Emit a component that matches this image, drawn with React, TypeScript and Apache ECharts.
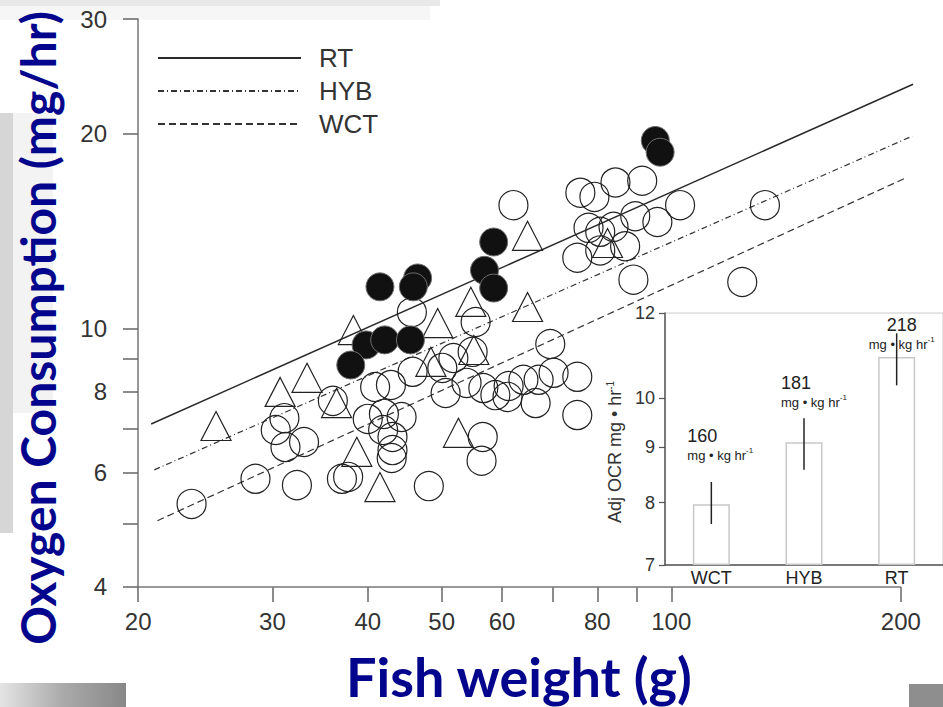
import React, { useEffect, useRef } from "react";
import * as echarts from "echarts";

// Main chart axes
const xTickValues = [20, 30, 40, 50, 60, 70, 80, 90, 100, 200];
const xLabelValues = [20, 30, 40, 50, 60, 80, 100, 200];
const yTickValues = [4, 5, 6, 7, 8, 9, 10, 20, 30];
const yLabelValues = [4, 6, 8, 10, 20, 30];

// Scatter data: [fish weight g, oxygen consumption mg/hr]
const rtFish = [
  [95.3, 19.5], [96.7, 18.7], [58.5, 13.6], [56.9, 12.3], [58.5, 11.55],
  [46.5, 11.97], [45.9, 11.6], [41.5, 11.6], [39.8, 9.44], [42.1, 9.61],
  [45.5, 9.61], [38.0, 8.79],
];
const hybFish = [
  [25.3, 7.08], [30.7, 7.99], [33.3, 8.4], [38.3, 9.95], [36.4, 7.68],
  [38.7, 6.46], [41.5, 5.7], [49.4, 10.2], [48.4, 8.89], [54.6, 11.0],
  [55.1, 9.27], [52.6, 6.91], [64.8, 13.9], [64.8, 10.8], [82.5, 13.55],
];
const wctFish = [
  [23.5, 5.37], [28.5, 5.87], [32.3, 5.74], [31.1, 7.28], [30.3, 6.98],
  [31.2, 6.57], [33.0, 6.69], [36.0, 7.74], [37.0, 5.87], [37.7, 5.91],
  [40.9, 8.13], [42.9, 8.19], [45.8, 8.58], [40.0, 7.26], [42.0, 7.39],
  [44.3, 7.31], [41.9, 6.98], [43.1, 6.81], [43.1, 6.5], [43.0, 6.32],
  [48.1, 5.72], [45.7, 10.6], [50.1, 8.7], [51.8, 9.01], [54.9, 9.21],
  [50.6, 7.96], [53.9, 8.25], [56.7, 8.1], [58.8, 7.9], [61.2, 8.16],
  [61.0, 7.85], [64.0, 8.34], [67.0, 8.34], [70.1, 8.55], [75.3, 8.43],
  [66.4, 7.68], [75.3, 7.36], [69.4, 9.47], [56.6, 6.81], [56.4, 6.26],
  [55.4, 10.24], [62.1, 15.5], [76.0, 16.2], [79.3, 15.96], [84.5, 16.8],
  [91.6, 16.9], [77.9, 14.3], [80.7, 14.1], [84.0, 14.35], [89.7, 14.9],
  [95.9, 14.6], [102.7, 15.5], [75.3, 12.86], [80.7, 13.2], [87.0, 13.4],
  [89.2, 11.9], [132.7, 15.5], [123.9, 11.8],
];

// Regression lines (end points)
const rtLine = [[20.8, 7.13], [207.5, 23.8]];
const hybLine = [[21.0, 6.06], [207, 19.8]];
const wctLine = [[21.2, 5.06], [203.6, 17.1]];
const xAxisSpan = [[20, 4], [200, 4]];

// Inset bar chart
const strains = ["WCT", "HYB", "RT"];
const adjOcr = [7.97, 9.1, 10.92];
const adjOcrLow = [7.64, 8.58, 10.28];
const adjOcrHigh = [8.36, 9.58, 11.49];
const adjRates = [160, 181, 218];
const insetTicks = [7, 8, 9, 10, 12];

const TICK_FONT = "'Liberation Sans', Arial, sans-serif";
const TITLE_FONT = "Lato, 'Open Sans', sans-serif";
const NAVY = "#03058c";
const CLEAR = "rgba(0,0,0,0)";

const labelLayouts = [
  { align: "left", offset: [-24, -40] },
  { align: "left", offset: [-23, -31] },
  { align: "center", offset: [5, -4] },
];

function buildOption() {
  return {
    animation: false,
    backgroundColor: "#ffffff",
    legend: {
      data: ["RT", "HYB", "WCT"],
      orient: "vertical",
      left: 152,
      top: 40,
      itemWidth: 143,
      itemHeight: 24,
      itemGap: 7,
      selectedMode: false,
      itemStyle: { color: CLEAR, borderColor: CLEAR, borderWidth: 0 },
      textStyle: {
        fontSize: 26, lineHeight: 22, color: "#333", fontFamily: TICK_FONT,
        padding: [2, 0, 0, 13],
      },
    },
    grid: [
      { left: 138, top: 19, width: 779, height: 568 },
      {
        left: 665, top: 313, width: 281, height: 252, show: true,
        backgroundColor: "#ffffff", borderColor: "#cccccc", borderWidth: 1, z: 10,
      },
    ],
    xAxis: [
      {
        type: "log", logBase: 10, gridIndex: 0, min: 19.99, max: 210,
        axisLine: { show: false },
        axisTick: { show: true, customValues: xTickValues, length: 15, lineStyle: { color: "#666", width: 1.5 } },
        axisLabel: { customValues: xLabelValues, fontSize: 24, color: "#333", fontFamily: TICK_FONT, margin: 22 },
        splitLine: { show: false },
        minorTick: { show: false },
      },
      {
        type: "category", gridIndex: 1, data: strains, z: 11,
        axisLine: { show: true, onZero: false, lineStyle: { color: "#555", width: 1.5 } },
        axisTick: { show: false },
        axisLabel: { fontSize: 18, color: "#222", fontFamily: TICK_FONT, margin: 4 },
        splitLine: { show: false },
      },
    ],
    yAxis: [
      {
        type: "log", logBase: 10, gridIndex: 0, min: 3.999, max: 30.001,
        axisLine: { show: true, lineStyle: { color: "#777", width: 1.5 } },
        axisTick: { show: true, customValues: yTickValues, length: 15, lineStyle: { color: "#666", width: 1.5 } },
        axisLabel: { customValues: yLabelValues, fontSize: 24, color: "#333", fontFamily: TICK_FONT, margin: 31 },
        splitLine: { show: false },
      },
      {
        type: "log", logBase: 10, gridIndex: 1, min: 6.999, max: 12.001, z: 11,
        startValue: 7,
        axisLine: { show: true, lineStyle: { color: "#555", width: 1.5 } },
        axisTick: { show: true, customValues: insetTicks, length: 6, lineStyle: { color: "#555", width: 1.2 } },
        axisLabel: { customValues: insetTicks, fontSize: 18, color: "#333", fontFamily: TICK_FONT, margin: 10 },
        splitLine: { show: false },
      },
    ],
    series: [
      {
        name: "xAxisLine", type: "line", xAxisIndex: 0, yAxisIndex: 0, data: xAxisSpan,
        symbol: "none", clip: false, silent: true, z: 2,
        lineStyle: { color: "#777", width: 1.5 },
      },
      {
        name: "RT", type: "line", xAxisIndex: 0, yAxisIndex: 0, data: rtLine, symbol: "none", z: 3,
        itemStyle: { color: "#2a2a2a" },
        lineStyle: { color: "#2a2a2a", width: 1.5, type: "solid" },
      },
      {
        name: "HYB", type: "line", xAxisIndex: 0, yAxisIndex: 0, data: hybLine, symbol: "none", z: 3,
        itemStyle: { color: "#333" },
        lineStyle: { color: "#333", width: 1.2, type: [6, 3, 1, 3] },
      },
      {
        name: "WCT", type: "line", xAxisIndex: 0, yAxisIndex: 0, data: wctLine, symbol: "none", z: 3,
        itemStyle: { color: "#333" },
        lineStyle: { color: "#333", width: 1.2, type: [7, 4] },
      },
      {
        name: "WCT fish", type: "scatter", xAxisIndex: 0, yAxisIndex: 0, data: wctFish,
        symbol: "circle", symbolSize: 29, z: 4,
        itemStyle: { color: CLEAR, borderColor: "#222", borderWidth: 1.2, opacity: 1 },
      },
      {
        name: "HYB fish", type: "scatter", xAxisIndex: 0, yAxisIndex: 0, data: hybFish,
        symbol: "triangle", symbolSize: [30, 29], z: 4,
        itemStyle: { color: CLEAR, borderColor: "#222", borderWidth: 1.2, opacity: 1 },
      },
      {
        name: "RT fish", type: "scatter", xAxisIndex: 0, yAxisIndex: 0, data: rtFish,
        symbol: "circle", symbolSize: 28, z: 5,
        itemStyle: { color: "#111111", borderColor: "#6e6e6e", borderWidth: 1, opacity: 1 },
      },
      {
        name: "Adj OCR", type: "bar", xAxisIndex: 1, yAxisIndex: 1, z: 12, barWidth: 37,
        data: adjOcr.map((v, i) => ({
          value: v,
          label: { align: labelLayouts[i].align, offset: labelLayouts[i].offset },
        })),
        itemStyle: { color: "#ffffff", borderColor: "#c8c8c8", borderWidth: 1.5 },
        label: {
          show: true, position: "top", distance: 0,
          fontFamily: TICK_FONT, color: "#222",
          formatter: (p: any) => `{n|${adjRates[p.dataIndex]}}\n{u|mg • kg hr}{s|-1}`,
          rich: {
            n: { fontSize: 18, lineHeight: 21, fontFamily: TICK_FONT, color: "#222" },
            u: { fontSize: 13, lineHeight: 18, fontFamily: TICK_FONT, color: "#222" },
            s: { fontSize: 8, lineHeight: 18, verticalAlign: "top", fontFamily: TICK_FONT, color: "#222" },
          },
        },
      },
      {
        name: "Error", type: "custom", xAxisIndex: 1, yAxisIndex: 1, z: 13,
        data: strains.map((s, i) => [i, adjOcrLow[i], adjOcrHigh[i]]),
        encode: { x: 0, y: [1, 2] },
        renderItem: (params: any, api: any) => {
          const x = api.value(0);
          const p1 = api.coord([x, api.value(1)]);
          const p2 = api.coord([x, api.value(2)]);
          return {
            type: "line",
            shape: { x1: p1[0], y1: p1[1], x2: p2[0], y2: p2[1] },
            style: { stroke: "#222", lineWidth: 1.5 },
          };
        },
      },
    ],
    graphic: [
      { type: "rect", z: -10, shape: { x: 0, y: 0, width: 440, height: 6 }, style: { fill: "#e9e9e9" } },
      { type: "rect", z: -10, shape: { x: 0, y: 6, width: 430, height: 14 }, style: { fill: "#f6f6f6" } },
      { type: "rect", z: -10, shape: { x: 0, y: 113, width: 13, height: 420 }, style: { fill: "#d6d6d6" } },
      { type: "rect", z: -10, shape: { x: 13, y: 113, width: 40, height: 300 }, style: { fill: "#f3f3f3" } },
      {
        type: "rect", z: -10, shape: { x: 0, y: 683, width: 126, height: 24 },
        style: {
          fill: new echarts.graphic.LinearGradient(0, 0, 1, 0, [
            { offset: 0, color: "#e4e4e4" },
            { offset: 0.5, color: "#aaaaaa" },
            { offset: 1, color: "#888888" },
          ]),
        },
      },
      { type: "rect", z: -10, shape: { x: 909, y: 684, width: 34, height: 23 }, style: { fill: "#8e8e8e" } },
      {
        type: "text", z: 20, x: 37, y: 328, rotation: Math.PI / 2,
        style: {
          text: "Oxygen Consumption (mg/hr)", fill: NAVY,
          font: `bold 48px ${TITLE_FONT}`, align: "center", verticalAlign: "middle",
        },
      },
      {
        type: "text", z: 20, x: 519, y: 676,
        style: {
          text: "Fish weight (g)", fill: NAVY,
          font: `bold 54px ${TITLE_FONT}`, align: "center", verticalAlign: "middle",
        },
      },
      {
        type: "text", z: 20, x: 615, y: 452, rotation: Math.PI / 2,
        style: {
          text: "{a|Adj OCR mg • hr}{b|-1}", align: "center", verticalAlign: "middle",
          rich: {
            a: { fontSize: 18, fontFamily: TICK_FONT, fill: "#333", lineHeight: 20 },
            b: { fontSize: 10, fontFamily: TICK_FONT, fill: "#333", lineHeight: 20, verticalAlign: "top" },
          },
        },
      },
    ],
  };
}

export default function App() {
  const ref = useRef<HTMLDivElement>(null);
  useEffect(() => {
    document.body.style.margin = "0";
    const chart = echarts.init(ref.current as HTMLDivElement, null, { renderer: "svg" });
    chart.setOption(buildOption() as any);
    return () => chart.dispose();
  }, []);
  return <div ref={ref} style={{ width: 943, height: 707 }} />;
}
